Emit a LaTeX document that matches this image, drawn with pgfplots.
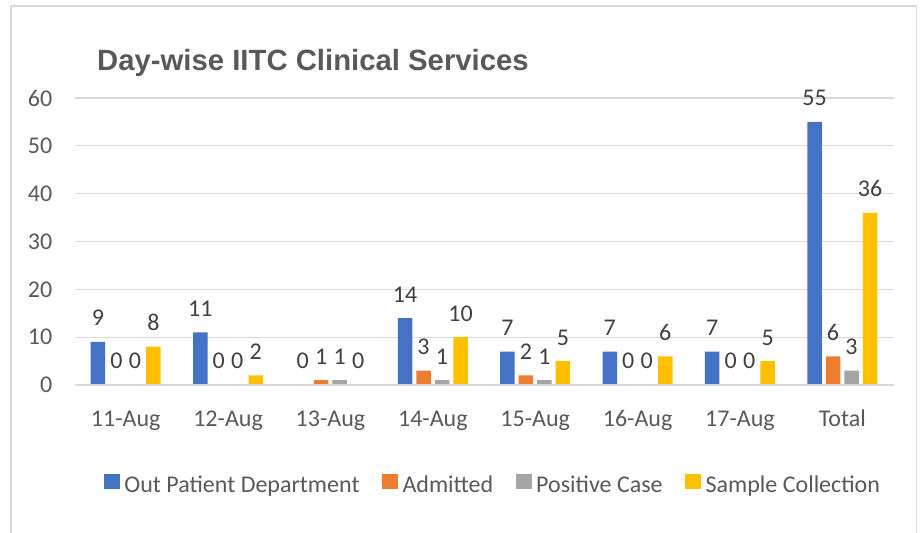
\documentclass[border=0pt]{standalone}
\usepackage{fontspec}
\setmainfont{Carlito}
\newfontfamily\titlefont{Liberation Sans}
\usepackage{pgfplots}
\pgfplotsset{compat=1.18}
\definecolor{cBlue}{HTML}{4472C4}
\definecolor{cOrange}{HTML}{ED7D31}
\definecolor{cGray}{HTML}{A5A5A5}
\definecolor{cYellow}{HTML}{FFC000}
\definecolor{labgray}{HTML}{595959}
\definecolor{datagray}{HTML}{404040}
\definecolor{gridc}{HTML}{D9D9D9}
\definecolor{framec}{HTML}{D9D9D9}
\pgfplotsset{
  sq legend/.style={legend image code/.code={\fill[##1,draw=none] (0bp,-4.5bp) rectangle (16bp,10.5bp);}},
}
\begin{document}
\begin{tikzpicture}
\path[use as bounding box] (0bp,0bp) rectangle (921bp,533bp);
\draw[color=framec, line width=1.5bp] (11bp,0bp) -- (11bp,527bp) -- (916.5bp,527bp) -- (916.5bp,0bp);
\node[anchor=base west, text=labgray, font=\titlefont\bfseries\fontsize{29.3bp}{34bp}\selectfont, inner sep=0pt] at (97bp,462bp) {Day-wise IITC Clinical Services};
\begin{axis}[
  at={(74.5bp,148bp)}, anchor=south west,
  scale only axis, width=819bp, height=287bp,
  xmin=-0.5, xmax=7.5, ymin=0, ymax=60,
  xtick={0,1,2,3,4,5,6,7},
  xticklabels={11-Aug,12-Aug,13-Aug,14-Aug,15-Aug,16-Aug,17-Aug,Total},
  ytick={0,10,20,30,40,50,60},
  ymajorgrids, grid style={draw=gridc, line width=1.2bp},
  axis line style={draw=none}, major tick length=0pt,
  tick label style={font=\fontsize{24bp}{28bp}\selectfont, text=labgray},
  yticklabel style={inner sep=0pt, anchor=east, xshift=-22bp},
  xticklabel style={inner sep=0pt, anchor=base, yshift=-41bp},
  /pgf/number format/assume math mode=true,
  ybar=4bp, bar width=14.5bp,
  nodes near coords,
  every node near coord/.append style={font=\fontsize{24bp}{28bp}\selectfont, text=datagray, anchor=base, yshift=16bp, inner sep=0pt},
  legend columns=4,
  legend style={at={(0.5107,-0.348)}, anchor=center, draw=none, fill=none,
    font=\fontsize{24bp}{28bp}\selectfont, text=labgray,
    /tikz/every odd column/.append style={column sep=3bp},
    /tikz/every even column/.append style={column sep=21bp},
    nodes={inner sep=1.5bp}},
  legend cell align=left,
]
\addplot[fill=cBlue, draw=none, sq legend] coordinates {(0,9) (1,11) (2,0) (3,14) (4,7) (5,7) (6,7) (7,55)};
\addplot[fill=cOrange, draw=none, sq legend] coordinates {(0,0) (1,0) (2,1) (3,3) (4,2) (5,0) (6,0) (7,6)};
\addplot[fill=cGray, draw=none, sq legend] coordinates {(0,0) (1,0) (2,1) (3,1) (4,1) (5,0) (6,0) (7,3)};
\addplot[fill=cYellow, draw=none, sq legend] coordinates {(0,8) (1,2) (2,0) (3,10) (4,5) (5,6) (6,5) (7,36)};
\legend{Out Patient Department, Admitted, Positive Case, Sample Collection}
\draw[gridc, line width=1.2bp] (axis cs:-0.5,0) -- (axis cs:7.5,0);
\end{axis}
\end{tikzpicture}
\end{document}
